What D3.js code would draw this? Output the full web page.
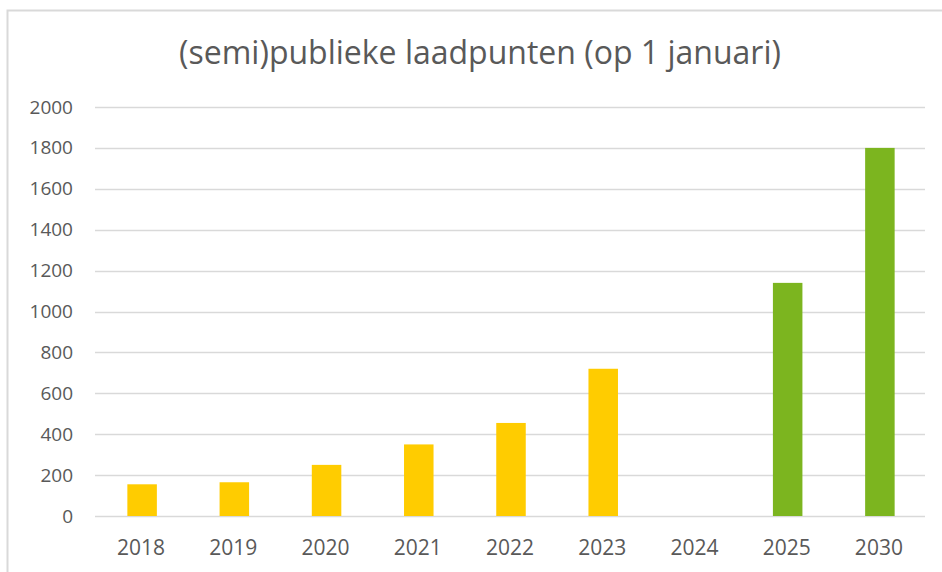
<!DOCTYPE html>
<html>
<head>
<meta charset="utf-8">
<script src="https://cdn.jsdelivr.net/npm/d3@7"></script>
<style>
  html, body { margin: 0; padding: 0; background: #fff; }
  svg { display: block; }
</style>
</head>
<body>
<div id="graphicContainer"></div>
<script>
var years = ["2018", "2019", "2020", "2021", "2022", "2023", "2024", "2025", "2030"]
var laadpunten = [155, 165, 250, 350, 455, 720, null, 1140, 1800]
var isPrognose = [false, false, false, false, false, false, false, true, true]
var yTicks = [0, 200, 400, 600, 800, 1000, 1200, 1400, 1600, 1800, 2000]

var width = 942
var height = 572
var margin = {top: 107, right: 17, bottom: 56, left: 95}

var svg = d3.select("#graphicContainer").append("svg")
	.attr("width", width)
	.attr("height", height)
	.attr("font-family", "'Open Sans', sans-serif")

// outer frame (only top and left visible)
svg.append("path")
	.attr("d", `M7.5,${height} L7.5,10.5 L${width},10.5`)
	.attr("fill", "none")
	.attr("stroke", "#d9d9d9")
	.attr("stroke-width", 2)

svg.append("text")
	.attr("x", 480)
	.attr("y", 64)
	.attr("text-anchor", "middle")
	.attr("font-size", 32)
	.attr("fill", "#595959")
	.text("(semi)publieke laadpunten (op 1 januari)")

var x = d3.scaleBand()
	.domain(years)
	.range([margin.left, width - margin.right])
	.paddingInner(0.68)
	.paddingOuter(0.34)

var y = d3.scaleLinear()
	.domain([0, 2000])
	.range([height - margin.bottom, margin.top])

var grid = svg.append("g")
grid.selectAll("line")
	.data(yTicks)
	.join("line")
	.attr("x1", margin.left)
	.attr("x2", width - margin.right)
	.attr("y1", d => Math.round(y(d)) + 0.5)
	.attr("y2", d => Math.round(y(d)) + 0.5)
	.attr("stroke", "#d9d9d9")
	.attr("stroke-width", 1.5)

var yAxis = svg.append("g")
	.attr("transform", `translate(${margin.left - 22},0)`)
	.call(d3.axisLeft(y).tickValues(yTicks).tickFormat(d3.format("d")).tickSize(0).tickPadding(0))
yAxis.select(".domain").remove()
yAxis.selectAll("text")
	.attr("font-size", 19)
	.attr("font-family", "'Open Sans', sans-serif")
	.attr("fill", "#595959")

var xAxis = svg.append("g")
	.attr("transform", `translate(0,${height - margin.bottom})`)
	.call(d3.axisBottom(x).tickSize(0).tickPadding(24))
xAxis.select(".domain").remove()
xAxis.selectAll("text")
	.attr("font-size", 21)
	.attr("font-family", "'Open Sans', sans-serif")
	.attr("fill", "#595959")

var bars = years.map((d, i) => ({year: d, value: laadpunten[i], prognose: isPrognose[i]}))
	.filter(d => d.value != null)

svg.append("g")
	.selectAll("rect")
	.data(bars)
	.join("rect")
	.attr("x", d => x(d.year) + 1)
	.attr("width", x.bandwidth())
	.attr("y", d => y(d.value))
	.attr("height", d => y(0) - y(d.value))
	.attr("fill", d => d.prognose ? "#7cb51f" : "#ffcc00")
</script>
</body>
</html>
